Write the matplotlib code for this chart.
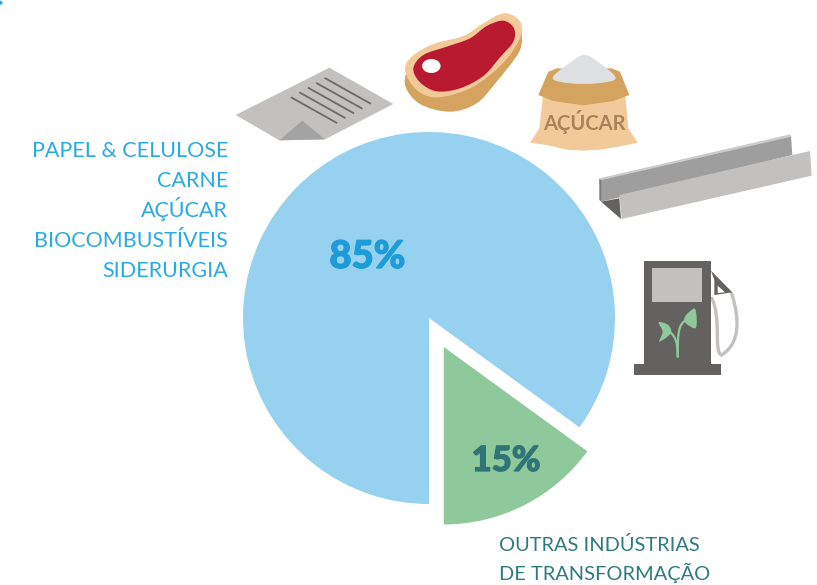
import numpy as np
import matplotlib
matplotlib.use('Agg')
import matplotlib.pyplot as plt
import matplotlib.patheffects as pe
from matplotlib.path import Path
from matplotlib.patches import PathPatch, Polygon, Ellipse

plt.rcParams['font.family'] = ['Lato', 'DejaVu Sans']

# data
shares = [15, 85]
share_labels = ['15%', '85%']
sectors_main = ['PAPEL & CELULOSE', 'CARNE', 'AÇÚCAR', 'BIOCOMBUSTÍVEIS', 'SIDERURGIA']
sectors_other = ['OUTRAS INDÚSTRIAS', 'DE TRANSFORMAÇÃO']

BLUE = '#97D1F0'
GREEN = '#8FC89B'
CREAM = '#F2C998'
TAN = '#D4A35F'
GRAY = '#C2C1BF'
MID = '#9E9E9E'
DARK = '#636261'


def crop(pts, x0, y0):
    return [(x0 + x / 3, y0 + y / 3) for x, y in pts]


def blob(ax, pts, color, zorder=3):
    """Closed smooth shape through pts (catmull-rom to bezier)."""
    p = np.array(pts, dtype=float)
    n = len(p)
    verts = [p[0]]
    codes = [Path.MOVETO]
    for i in range(n):
        p0, p1, p2, p3 = p[i - 1], p[i], p[(i + 1) % n], p[(i + 2) % n]
        verts += [p1 + (p2 - p0) / 6, p2 - (p3 - p1) / 6, p2]
        codes += [Path.CURVE4] * 3
    ax.add_patch(PathPatch(Path(verts, codes), fc=color, ec='none', zorder=zorder))


def curve(ax, pts, color, lw, zorder=3):
    verts = np.array(pts)
    codes = [Path.MOVETO] + [Path.CURVE4] * (len(pts) - 1)
    ax.add_patch(PathPatch(Path(verts, codes), fc='none', ec=color, lw=lw,
                           capstyle='round', zorder=zorder))


def poly(ax, pts, color, zorder=3):
    ax.add_patch(Polygon(pts, closed=True, fc=color, ec='none', zorder=zorder))


def draw_paper(ax):
    c = lambda pts: crop(pts, 220, 0)
    poly(ax, c([(47, 345), (328, 203), (520, 312), (315, 418), (178, 421)]), GRAY)
    poly(ax, c([(178, 421), (247, 362), (315, 418)]), '#A3A3A3', 4)
    starts = [(316, 235), (291, 250), (266, 264), (240, 278), (215, 293)]
    for x, y in starts:
        a = c([(x, y), (x + 134, y + 75)])
        ax.plot([a[0][0], a[1][0]], [a[0][1], a[1][1]], color='#6B6B6A', lw=1.3, zorder=4)


def draw_meat(ax):
    c = lambda pts: crop(pts, 220, 0)
    top = [(555, 212), (575, 170), (640, 132), (730, 108), (790, 70), (850, 40),
           (895, 58), (905, 100), (870, 165), (810, 225), (740, 270), (650, 292),
           (590, 270)]
    blob(ax, c([(555, 254), (575, 190), (640, 150), (730, 130), (790, 90), (850, 60),
                (895, 60), (906, 110), (895, 160), (830, 245), (770, 310), (690, 335),
                (600, 312)]), TAN)
    blob(ax, c(top), CREAM, 4)
    blob(ax, c([(580, 205), (610, 165), (680, 140), (750, 115), (800, 78), (850, 62),
                (882, 85), (880, 125), (840, 172), (790, 228), (720, 265), (650, 274),
                (600, 247)]), '#BA1A2F', 5)
    ax.add_patch(Ellipse((220 + 634 / 3, 198 / 3), 18.5, 14, fc='white', ec='none', zorder=6))


def draw_sack(ax):
    c = lambda pts: crop(pts, 220, 0)
    poly(ax, c([(970, 280), (1215, 280), (1225, 385), (1253, 428), (1190, 441), (1140, 449),
                (1090, 452), (1040, 449), (985, 436), (930, 428), (958, 385)]), CREAM)
    poly(ax, c([(985, 215), (1010, 205), (1175, 205), (1200, 215), (1228, 285), (1180, 303),
                (1090, 316), (1000, 303), (955, 285)]), TAN, 4)
    blob(ax, c([(998, 235), (1040, 195), (1092, 165), (1140, 190), (1187, 235), (1130, 250),
                (1050, 250)]), '#DFE0E2', 5)
    ax.text(220 + 1092 / 3, 365 / 3, 'AÇÚCAR', color='#A9825A', fontsize=14.5,
            fontweight='bold', ha='center', va='center', zorder=6)


def draw_beam(ax):
    c = lambda pts: crop(pts, 590, 120)
    poly(ax, c([(28, 177), (603, 47), (607, 105), (90, 232), (33, 245)]), MID)
    poly(ax, c([(28, 175), (600, 43), (605, 50), (30, 181)]), '#CBCBCB', 4)
    poly(ax, c([(28, 177), (34, 181), (34, 245), (28, 240)]), '#7C7C7C', 4)
    poly(ax, c([(33, 245), (88, 235), (93, 297)]), DARK, 4)
    poly(ax, c([(88, 225), (660, 93), (665, 167), (95, 297)]), GRAY, 5)


def draw_pump(ax):
    c = lambda pts: crop(pts, 590, 120)
    hose = c([(365, 535), (395, 590), (370, 700), (395, 705), (450, 670), (450, 600), (425, 520)])
    curve(ax, hose, GRAY, 2.4)
    poly(ax, c([(162, 423), (363, 423), (363, 733), (162, 733)]), DARK, 4)
    poly(ax, c([(132, 733), (393, 733), (393, 765), (132, 765)]), DARK, 4)
    poly(ax, c([(186, 444), (336, 444), (336, 546), (186, 546)]), GRAY, 5)
    poly(ax, c([(363, 452), (427, 517), (373, 525), (373, 480)]), DARK, 4)
    poly(ax, c([(383, 497), (405, 517), (383, 519)]), 'white', 5)
    curve(ax, c([(263, 710), (263, 660), (255, 650), (235, 630)]), GREEN, 1.6, 5)
    curve(ax, c([(263, 710), (263, 640), (265, 610), (290, 600)]), GREEN, 1.6, 5)
    blob(ax, c([(206, 607), (235, 615), (242, 640), (208, 665), (218, 635)]), GREEN, 6)
    blob(ax, c([(316, 568), (318, 623), (290, 612), (283, 595), (295, 578)]), GREEN, 6)


fig = plt.figure(figsize=(8.17, 5.85), dpi=100)
ax = fig.add_axes([0, 0, 1, 1])

# y runs downwards here, so the pie goes clockwise from 90 to look anticlockwise from the bottom
wedges, _ = ax.pie(shares, colors=[GREEN, BLUE], startangle=90, counterclock=False,
                   explode=[32.5, 0], center=(429, 318), radius=186,
                   wedgeprops={'linewidth': 0, 'zorder': 2})
wedges[0].set_radius(177.5)

ax.set_xlim(0, 817)
ax.set_ylim(585, 0)
ax.axis('off')

heavy_green = [pe.withStroke(linewidth=0.9, foreground='#2F7577')]
heavy_blue = [pe.withStroke(linewidth=0.9, foreground='#1E9CD8')]
ax.text(506, 461, share_labels[0], color='#2F7577', fontsize=25, fontweight='black',
        ha='center', va='center', zorder=7, path_effects=heavy_green)
ax.text(367.5, 257, share_labels[1], color='#1E9CD8', fontsize=27.5, fontweight='black',
        ha='center', va='center', zorder=7, path_effects=heavy_blue)

for i, name in enumerate(sectors_main):
    ax.text(228, 157 + i * 30, name, color='#29ABE2', fontsize=15.5, ha='right', va='baseline')
for i, name in enumerate(sectors_other):
    ax.text(499, 551 + i * 29, name, color='#2F7A7D', fontsize=14.4, ha='left', va='baseline')

# remains of a heading cut off by the top edge
ax.text(-9, 0, 'ções', color='#29ABE2', fontsize=22, fontweight='bold', ha='left', va='baseline')

draw_paper(ax)
draw_meat(ax)
draw_sack(ax)
draw_beam(ax)
draw_pump(ax)

fig.savefig('out.png', dpi=100)
